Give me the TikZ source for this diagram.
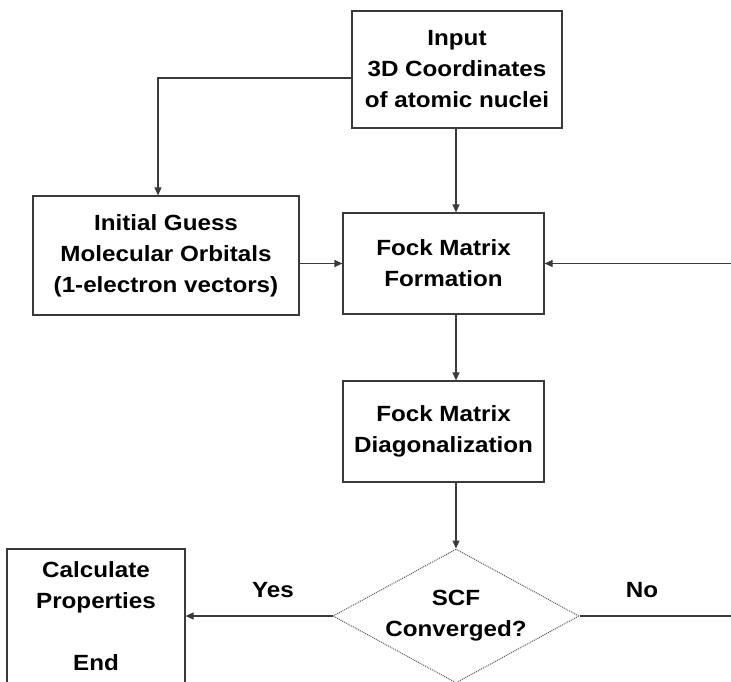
\documentclass[tikz,border=0pt]{standalone}
\usepackage{fontspec}
\setmainfont{Liberation Sans}[FakeStretch=1.1]
\usetikzlibrary{shapes.geometric,arrows.meta}
\definecolor{lc}{HTML}{3A3A3A}
\tikzset{
  txt/.style={font=\fontsize{22}{31}\selectfont\bfseries, align=center, text=black},
  box/.style={txt, draw=lc, line width=1.2pt, rectangle, inner sep=0pt},
  dec/.style={txt, draw=lc!85, line width=1pt, dash pattern=on 1pt off 1pt, diamond, inner sep=0pt, aspect=1.84},
  conn/.style={draw=lc, line width=1.2pt},
  arr/.style={conn, -{Triangle[length=8pt,width=7pt]}}
}
\begin{document}
\begin{tikzpicture}[x=1pt,y=-1pt]
\useasboundingbox (0,0) rectangle (731,681);
\node[box, minimum width=210, minimum height=117] (input) at (457,69.5) {Input\\3D Coordinates\\of atomic nuclei};
\node[box, minimum width=266, minimum height=119] (guess) at (166,255.5) {Initial Guess\\Molecular Orbitals\\(1-electron vectors)};
\node[box, minimum width=201, minimum height=101] (form) at (443.5,263.5) {Fock Matrix\\Formation};
\node[box, minimum width=201, minimum height=101] (diag) at (443.5,431.5) {Fock Matrix\\Diagonalization};
\node[dec, minimum width=246, minimum height=134] (scf) at (456,616) {SCF\\Converged?};
\node[box, minimum width=178, minimum height=134] (calc) at (96,616) {Calculate\\Properties\\\\End};
\node[txt] (yes) at (273,590) {Yes};
\node[txt] (no) at (642,590) {No};
\coordinate (inL) at (352,78);
\coordinate (gtop) at (158,78);
\coordinate (vx) at (456,0);
\coordinate (rx) at (731,0);
\draw[arr] (inL) -- (gtop) -- (gtop |- guess.north);
\draw[arr] (vx |- input.south) -- (vx |- form.north);
\draw[arr] (form.west -| guess.east) -- (form.west);
\draw[arr] (form.east -| rx) -- (form.east);
\draw[arr] (vx |- form.south) -- (vx |- diag.north);
\draw[arr] (vx |- diag.south) -- (scf.north);
\draw[arr] (scf.west) -- (calc.east);
\draw[conn] (scf.east) -- (scf.east -| rx);
\end{tikzpicture}
\end{document}
